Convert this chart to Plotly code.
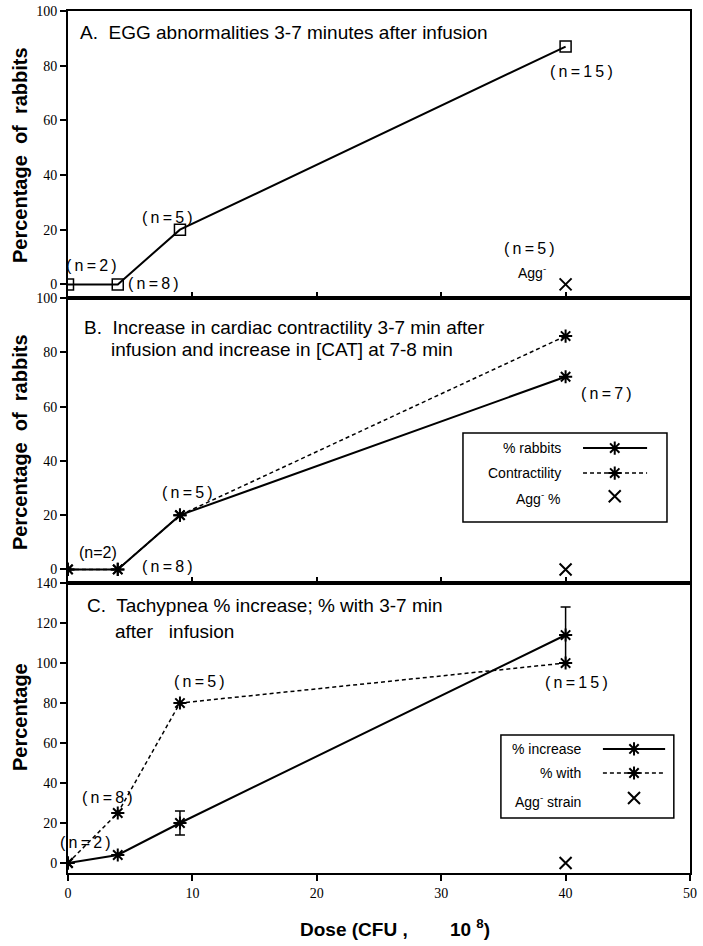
import plotly.graph_objects as go

# ---------------- data ----------------
dose = [0, 4, 9, 40]
egg_pct = [0, 0, 20, 87]
agg_dose = [40]
agg_pct = [0]

rabbits_pct = [0, 0, 20, 71]
contract_pct = [0, 0, 20, 86]

tachy_increase = [0, 4, 20, 114]
tachy_err = [0, 0, 6, 14]
tachy_with = [0, 25, 80, 100]

x_ticks = [0, 10, 20, 30, 40, 50]
yA_ticks = [0, 20, 40, 60, 80, 100]
yC_ticks = [0, 20, 40, 60, 80, 100, 120, 140]

SANS = "Liberation Sans, Arial, sans-serif"
SERIF = "Liberation Serif, Times New Roman, serif"
BLK = "black"
DASH = "4px,3px"
TS = "\u2009"  # thin space for letter-spaced labels


def spaced(s):
    return TS.join(list(s))


fig = go.Figure()

star = dict(symbol="asterisk-open", size=11, color=BLK, line=dict(width=2, color=BLK))
xmark = dict(symbol="x-thin-open", size=12, color=BLK, line=dict(width=2, color=BLK))

# Panel A
fig.add_trace(go.Scatter(x=dose, y=egg_pct, mode="lines+markers", xaxis="x", yaxis="y",
                         line=dict(color=BLK, width=2),
                         marker=dict(symbol="square-open", size=11, color=BLK, line=dict(width=1.5, color=BLK)),
                         showlegend=False))
fig.add_trace(go.Scatter(x=agg_dose, y=agg_pct, mode="markers", xaxis="x", yaxis="y",
                         marker=xmark, showlegend=False))

# Panel B
fig.add_trace(go.Scatter(x=dose, y=contract_pct, mode="lines+markers", xaxis="x2", yaxis="y2",
                         line=dict(color=BLK, width=1.5, dash=DASH), marker=star, showlegend=False))
fig.add_trace(go.Scatter(x=dose, y=rabbits_pct, mode="lines+markers", xaxis="x2", yaxis="y2",
                         line=dict(color=BLK, width=2), marker=star, showlegend=False))
fig.add_trace(go.Scatter(x=agg_dose, y=agg_pct, mode="markers", xaxis="x2", yaxis="y2",
                         marker=xmark, showlegend=False))

# Panel C
fig.add_trace(go.Scatter(x=dose, y=tachy_with, mode="lines+markers", xaxis="x3", yaxis="y3",
                         line=dict(color=BLK, width=1.5, dash=DASH), marker=star, showlegend=False))
fig.add_trace(go.Scatter(x=dose, y=tachy_increase, mode="lines+markers", xaxis="x3", yaxis="y3",
                         line=dict(color=BLK, width=2), marker=star,
                         error_y=dict(type="data", array=tachy_err, visible=True, color=BLK,
                                      thickness=1.5, width=5),
                         showlegend=False))
fig.add_trace(go.Scatter(x=agg_dose, y=agg_pct, mode="markers", xaxis="x3", yaxis="y3",
                         marker=xmark, showlegend=False))


# Hand-drawn legend samples on a full-size hidden axis (0..1 of plot area)
def legend_samples(x0, x1, xm, y_solid, y_dash, y_x):
    fig.add_trace(go.Scatter(x=[x0, xm, x1], y=[y_solid] * 3, mode="lines", xaxis="x4", yaxis="y4",
                             line=dict(color=BLK, width=2), showlegend=False, hoverinfo="skip"))
    fig.add_trace(go.Scatter(x=[xm], y=[y_solid], mode="markers", xaxis="x4", yaxis="y4",
                             marker=star, showlegend=False, hoverinfo="skip"))
    fig.add_trace(go.Scatter(x=[x0, xm, x1], y=[y_dash] * 3, mode="lines", xaxis="x4", yaxis="y4",
                             line=dict(color=BLK, width=1.5, dash=DASH), showlegend=False, hoverinfo="skip"))
    fig.add_trace(go.Scatter(x=[xm], y=[y_dash], mode="markers", xaxis="x4", yaxis="y4",
                             marker=star, showlegend=False, hoverinfo="skip"))
    fig.add_trace(go.Scatter(x=[xm], y=[y_x], mode="markers", xaxis="x4", yaxis="y4",
                             marker=xmark, showlegend=False, hoverinfo="skip"))


legend_samples(0.828, 0.931, 0.879, 0.4930, 0.4640, 0.4370)
legend_samples(0.860, 0.960, 0.910, 0.1439, 0.1160, 0.0870)

dA = [0.667, 1.0]
dB = [0.3364, 0.667]
dC = [0.0, 0.3364]


def xax(anchor, labels):
    d = dict(range=[0, 50], tickvals=x_ticks, showline=True, linewidth=2, linecolor=BLK, mirror=True,
             showgrid=False, zeroline=False, anchor=anchor, ticklen=6, tickwidth=1.5, tickcolor=BLK,
             automargin=False, ticklabeloverflow="allow",
             tickfont=dict(family=SERIF, size=14, color=BLK))
    if labels:
        d.update(ticks="outside", showticklabels=True)
    else:
        d.update(ticks="inside", showticklabels=False)
    return d


def yax(domain, rng, tv, anchor):
    return dict(domain=domain, range=rng, tickvals=tv, showline=True, linewidth=2, linecolor=BLK,
                mirror=True, showgrid=False, zeroline=False, anchor=anchor, ticks="outside",
                ticklen=6, tickwidth=1.5, tickcolor=BLK, automargin=False,
                ticklabeloverflow="allow",
                tickfont=dict(family=SERIF, size=14, color=BLK))


fig.update_layout(
    width=703, height=946,
    margin=dict(l=68, r=13, t=11, b=73),
    paper_bgcolor="white", plot_bgcolor="rgba(0,0,0,0)",
    xaxis=xax("y", False),
    yaxis=yax(dA, [-5, 100], yA_ticks, "x"),
    xaxis2=xax("y2", False),
    yaxis2=yax(dB, [-5, 100], yA_ticks, "x2"),
    xaxis3=xax("y3", True),
    yaxis3=yax(dC, [-5, 140], yC_ticks, "x3"),
    xaxis4=dict(domain=[0, 1], range=[0, 1], visible=False, anchor="y4", automargin=False),
    yaxis4=dict(domain=[0, 1], range=[0, 1], visible=False, anchor="x4", automargin=False),
    showlegend=False,
)

shapes = [
    dict(type="rect", xref="paper", yref="paper", x0=0.635, x1=0.963, y0=0.4072, y1=0.5104,
         line=dict(color=BLK, width=1.5), fillcolor="rgba(0,0,0,0)"),
    dict(type="rect", xref="paper", yref="paper", x0=0.696, x1=0.974, y0=0.0638, y1=0.1601,
         line=dict(color=BLK, width=1.5), fillcolor="rgba(0,0,0,0)"),
]
fig.update_layout(shapes=shapes)

ann = []


def note(text, x, y, xr, yr, size=16, xanchor="center", family=SANS, **kw):
    ann.append(dict(text=text, x=x, y=y, xref=xr, yref=yr, showarrow=False, xanchor=xanchor,
                    yanchor="middle", font=dict(family=family, size=size, color=BLK), **kw))


# Panel A texts
note("A.  EGG abnormalities 3-7 minutes after infusion", 0.8, 92, "x", "y", size=19, xanchor="left")
note(spaced("(n=2)"), 1.9, 7.0, "x", "y")
note(spaced("(n=8)"), 4.7, 0.4, "x", "y", xanchor="left")
note(spaced("(n=5)"), 8.0, 24.5, "x", "y")
note(spaced("(n=15)"), 41.3, 77.7, "x", "y")
note(spaced("(n=5)"), 37.1, 13.2, "x", "y")
note("Agg<sup>-</sup>", 37.3, 4.4, "x", "y", size=14)

# Panel B texts
note("B.  Increase in cardiac contractility 3-7 min after", 1.1, 89, "x2", "y2", size=19, xanchor="left")
note("infusion and increase in [CAT] at 7-8 min", 3.3, 80.9, "x2", "y2", size=19, xanchor="left")
note("(n=2)", 2.4, 6.3, "x2", "y2")
note(spaced("(n=8)"), 8.0, 1.1, "x2", "y2")
note(spaced("(n=5)"), 9.6, 28.3, "x2", "y2")
note(spaced("(n=7)"), 43.3, 65, "x2", "y2")
note("% rabbits", 0.796, 0.4930, "paper", "paper", size=14, xanchor="right")
note("Contractility", 0.796, 0.4640, "paper", "paper", size=14, xanchor="right")
note("Agg<sup>-</sup> %", 0.796, 0.4350, "paper", "paper", size=14, xanchor="right")

# Panel C texts
note("C.  Tachypnea % increase; % with 3-7 min", 1.4, 129, "x3", "y3", size=19, xanchor="left")
note("after   infusion", 3.6, 116, "x3", "y3", size=19, xanchor="left")
note(spaced("(n=2)"), 1.4, 10.5, "x3", "y3")
note(spaced("(n=8)"), 3.2, 33, "x3", "y3")
note(spaced("(n=5)"), 10.6, 91, "x3", "y3")
note(spaced("(n=15)"), 40.9, 90.5, "x3", "y3")
note("% increase", 0.828, 0.1439, "paper", "paper", size=14, xanchor="right")
note("% with", 0.828, 0.1160, "paper", "paper", size=14, xanchor="right")
note("Agg<sup>-</sup> strain", 0.828, 0.0835, "paper", "paper", size=14, xanchor="right")

# Axis titles
note("<b>Percentage  of  rabbits</b>", -0.077, 0.833, "paper", "paper", size=20, textangle=-90)
note("<b>Percentage  of  rabbits</b>", -0.077, 0.500, "paper", "paper", size=20, textangle=-90)
note("<b>Percentage</b>", -0.077, 0.181, "paper", "paper", size=20, textangle=-90)
note("<b>Dose (CFU ,        10 <sup>8</sup>)</b>", 0.370, -0.064, "paper", "paper", size=19, xanchor="left")

fig.update_layout(annotations=ann)

# remove the browser's default 8px body margin so the figure fills the window exactly
fig.write_html("out.html", config={"displayModeBar": False},
               post_script="document.body.style.margin='0';")
